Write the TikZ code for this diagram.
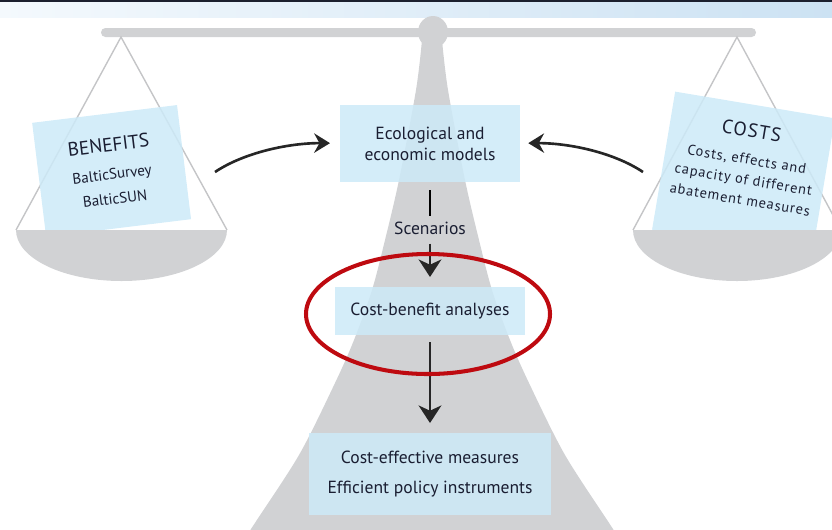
\documentclass[tikz,border=0pt]{standalone}
\usepackage{fontspec}
\setmainfont{PT Sans}
\usepackage{xcolor}
\usetikzlibrary{arrows.meta}
\definecolor{boxblue}{RGB}{205,234,248}
\definecolor{scalegray}{RGB}{209,210,212}
\definecolor{cordgray}{RGB}{196,197,199}
\definecolor{ringred}{RGB}{190,10,16}
\definecolor{inkblue}{RGB}{26,30,50}
\definecolor{bandleft}{RGB}{244,249,253}
\definecolor{bandright}{RGB}{204,226,243}
\definecolor{banddark}{RGB}{28,32,46}

\begin{document}
\begin{tikzpicture}[x=0.02cm,y=-0.02cm]
\tikzstyle{every node}=[font=\fontsize{10}{12}\selectfont, text=inkblue]
\tikzstyle{panel}=[fill=boxblue, fill opacity=0.85, text opacity=1, inner sep=0pt]
\tikzstyle{flow}=[-{Stealth[length=10pt,width=13pt,inset=3pt]}, line width=1.1pt, black!85]
\tikzstyle{swing}=[-{Stealth[length=9pt,width=11pt,inset=3pt]}, line width=1.5pt, black!85]
\tikzstyle{cord}=[draw=cordgray, line width=0.8pt]
\useasboundingbox (0,0) rectangle (832,529);
\clip (0,0) rectangle (832,529);
% band on top
\shade[left color=bandleft, right color=bandright] (0,0) rectangle (832,17);
\fill[banddark] (0,0) rectangle (832,2);
% the balance
\fill[scalegray] plot[smooth] coordinates {(422,40) (416,90) (399,180) (385,240) (372,290) (354,340) (335,383) (299,455) (251,529) (245,540)}
  -- plot[smooth] coordinates {(619,540) (613,529) (565,455) (529,383) (510,340) (492,290) (479,240) (465,180) (448,90) (442,40)} -- cycle;
\fill[scalegray, rounded corners=2.5pt] (101,28) rectangle (756,37);
\fill[scalegray] (433,32) ellipse [x radius=15, y radius=16];
\draw[cord] (16,230) -- (121,37) -- (227,230);
\draw[cord] (633,230) -- (737,37) -- (841,230);
% weights
\node (benefits) [panel, rotate=7, minimum width=2.92cm, minimum height=2.3cm, align=center,
  font=\fontsize{8.6}{14}\selectfont] at (111.6,171)
  {{\fontsize{11}{14}\selectfont BENEFITS}\\[2pt] BalticSurvey\\ BalticSUN};
\node (costsbox) [panel, rotate=-9.5, minimum width=3.24cm, minimum height=2.8cm] at (743.5,174) {};
\node (costs) [rotate=-9.5, align=center, font=\fontsize{8.2}{11.6}\selectfont\addfontfeature{LetterSpace=6}] at (746,164)
  {{\fontsize{11}{11.6}\selectfont COSTS}\\[4pt] Costs, effects and\\ capacity of different\\ abatement measures};
\fill[scalegray] (16,230) arc[start angle=180, end angle=0, x radius=105.5, y radius=51] -- cycle;
\fill[scalegray] (633,230) arc[start angle=180, end angle=0, x radius=104, y radius=51] -- cycle;
% chain
\node (models) [panel, minimum width=3.6cm, minimum height=1.54cm, align=center,
  font=\fontsize{10}{11.9}\selectfont] at (430,143.5) {Ecological and\\ economic models};
\node (scenarios) [inner sep=2pt] at (430,228) {Scenarios};
\node (analyses) [panel, minimum width=3.8cm, minimum height=0.96cm] at (430,311) {Cost-benefit analyses};
\node (results) [panel, minimum width=4.84cm, minimum height=1.64cm, align=center,
  font=\fontsize{10}{17}\selectfont] at (430,474) {Cost-effective measures\\ Efficient policy instruments};
\coordinate (fromBenefits) at (215,172);
\coordinate (fromCosts) at (643,172);
\draw[line width=0.6pt, shorten <=4.5pt, shorten >=1pt] (models) -- (scenarios);
\draw[flow, shorten <=3pt, shorten >=5.5pt] (scenarios) -- (analyses);
\draw[flow, shorten <=4pt, shorten >=5.5pt] (analyses) -- (results);
\draw[swing, shorten >=5.5pt] (fromBenefits) .. controls (245,152) and (290,143) .. (models);
\draw[swing, shorten >=4.5pt] (fromCosts) .. controls (613,152) and (568,143) .. (models);
\draw[ringred, line width=2.3pt] (428,314) ellipse [x radius=122, y radius=60];
\end{tikzpicture}
\end{document}
